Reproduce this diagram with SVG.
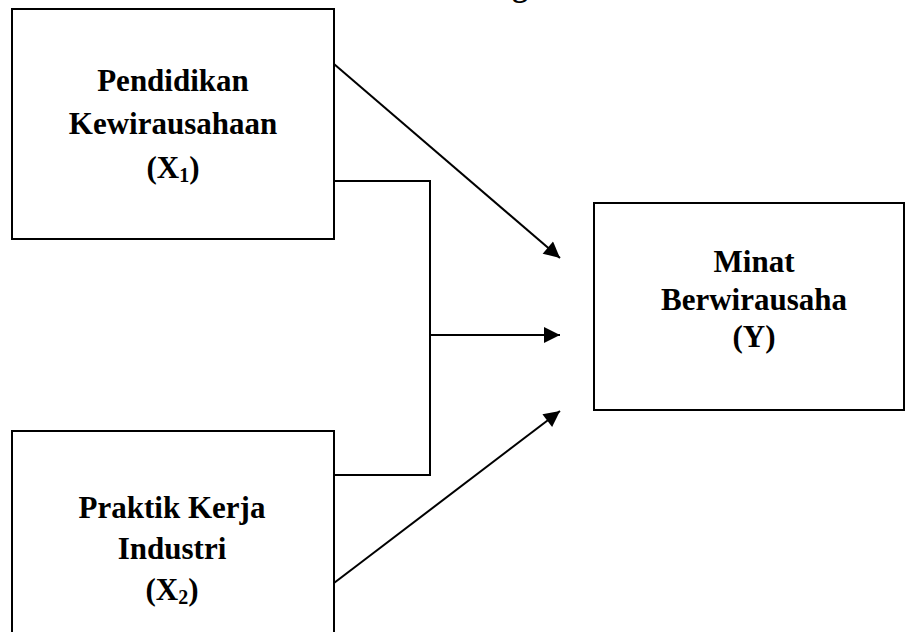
<svg xmlns="http://www.w3.org/2000/svg" width="905" height="632" viewBox="0 0 905 632">
<style>
.box{fill:#fff;stroke:#000;stroke-width:2}
.t{font-family:"Liberation Serif","Times New Roman",serif;font-weight:bold;font-size:31px;text-anchor:middle;fill:#000}
.sub{font-size:20px}
.ln{fill:none;stroke:#000;stroke-width:2}
</style>
<defs>
<marker id="ah" viewBox="0 0 10 10" refX="10" refY="5" markerWidth="9" markerHeight="8" markerUnits="strokeWidth" orient="auto">
<path d="M0,0 L10,5 L0,10 z" fill="#000"/>
</marker>
</defs>
<rect width="905" height="632" fill="#fff"/>
<text class="t" x="520" y="-4">g</text>
<g id="connectors">
<line class="ln" x1="334" y1="64" x2="560" y2="258" marker-end="url(#ah)"/>
<polyline class="ln" points="334,181 430,181 430,475 334,475"/>
<line class="ln" x1="430" y1="335" x2="560" y2="335" marker-end="url(#ah)"/>
<line class="ln" x1="334" y1="583" x2="560" y2="411" marker-end="url(#ah)"/>
</g>
<g id="node-x1">
<rect class="box" x="12" y="9" width="322" height="230"/>
<text class="t" x="173" y="91">Pendidikan</text>
<text class="t" x="173" y="134">Kewirausahaan</text>
<text class="t" x="173" y="178">(X<tspan class="sub" dy="4">1</tspan><tspan dy="-4">)</tspan></text>
</g>
<g id="node-x2">
<rect class="box" x="12" y="431" width="322" height="215"/>
<text class="t" x="172" y="518">Praktik Kerja</text>
<text class="t" x="172" y="559">Industri</text>
<text class="t" x="172" y="600">(X<tspan class="sub" dy="4">2</tspan><tspan dy="-4">)</tspan></text>
</g>
<g id="node-y">
<rect class="box" x="594" y="203" width="310" height="207"/>
<text class="t" x="754" y="272">Minat</text>
<text class="t" x="754" y="310">Berwirausaha</text>
<text class="t" x="754" y="347">(Y)</text>
</g>
</svg>
